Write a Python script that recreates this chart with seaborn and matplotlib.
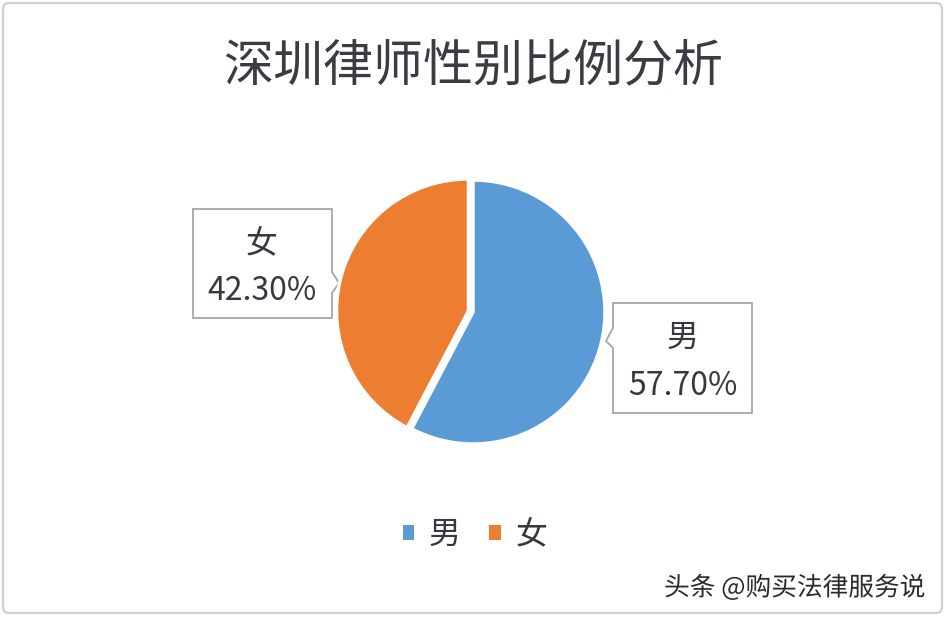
import matplotlib
matplotlib.use("Agg")
import matplotlib.pyplot as plt
import seaborn as sns
from matplotlib.patches import Polygon, FancyBboxPatch, Patch
import matplotlib.patheffects as pe

# ---- data ----
categories = ["男", "女"]
shares = [57.70, 42.30]
title = "深圳律师性别比例分析"
watermark = "头条 @购买法律服务说"
colors = ["#5B9BD5", "#ED7D31"]

sns.set_theme(style="white")
plt.rcParams['font.family'] = ['Noto Sans CJK SC', 'DejaVu Sans']

W, H = 946, 618
fig = plt.figure(figsize=(W / 100, H / 100), dpi=100)
fig.patch.set_facecolor("white")

txt_color = "#3A3540"

# overlay axes in pixel coordinates for decoration
ov = fig.add_axes([0, 0, 1, 1])
ov.set_xlim(0, W)
ov.set_ylim(H, 0)
ov.axis("off")

# outer border
ov.add_patch(FancyBboxPatch((3, 3), W - 7, H - 8, boxstyle="round,pad=0,rounding_size=6",
                            fill=False, edgecolor="#CFCFD4", linewidth=1.6))

# pie axes
cx, cy, R, half = 473, 312, 132, 150
pax = fig.add_axes([(cx - half) / W, (H - cy - half) / H, 2 * half / W, 2 * half / H])
wedges, _ = pax.pie(shares, colors=colors, startangle=90, counterclock=False,
                    explode=[0, 0.035], radius=1,
                    wedgeprops=dict(edgecolor="white", linewidth=2.5))
lim = half / R
pax.set_xlim(-lim, lim)
pax.set_ylim(-lim, lim)
pax.set_aspect("equal")
pax.axis("off")

# callouts
def callout(x0, y0, x1, y1, side, p0, p1, tip):
    if side == "right":
        pts = [(x0, y0), (x1, y0), (x1, p0), tip, (x1, p1), (x1, y1), (x0, y1)]
    else:
        pts = [(x0, y0), (x1, y0), (x1, y1), (x0, y1), (x0, p1), tip, (x0, p0)]
    ov.add_patch(Polygon(pts, closed=True, facecolor="white", edgecolor="#A6A6A6",
                         linewidth=1.3, zorder=5))

fs_lab = 23
# 女 label
callout(193, 209, 332, 318, "right", 272, 293, (339, 283))
ov.text(262, 244, categories[1], ha="center", va="center", fontsize=fs_lab,
        color=txt_color, fontweight="light", zorder=6)
ov.text(262, 291, f"{shares[1]:.2f}%", ha="center", va="center", fontsize=fs_lab,
        color=txt_color, fontweight="light", zorder=6)
# 男 label
callout(613, 303, 752, 413, "left", 328, 348, (606, 341))
ov.text(683, 338, categories[0], ha="center", va="center", fontsize=fs_lab,
        color=txt_color, fontweight="light", zorder=6)
ov.text(683, 386, f"{shares[0]:.2f}%", ha="center", va="center", fontsize=fs_lab,
        color=txt_color, fontweight="light", zorder=6)

# title
ov.text(473, 66, title, ha="center", va="center", fontsize=36, color="#3E3A44",
        fontweight="normal")

# legend
handles = [Patch(facecolor=c, edgecolor="none") for c in colors]
leg = fig.legend(handles, categories, loc="center", bbox_to_anchor=(475 / W, 1 - 535 / H),
                 ncol=2, frameon=False, fontsize=23, handlelength=0.36, handleheight=0.36,
                 handletextpad=0.45, columnspacing=0.9, borderpad=0)
for t in leg.get_texts():
    t.set_color(txt_color)
    t.set_fontweight("light")

# watermark
ov.text(795, 588, watermark, ha="center", va="center", fontsize=18.5, color="#2B2B2B",
        path_effects=[pe.withStroke(linewidth=2.5, foreground="white")])

fig.savefig("out.png", dpi=100, facecolor="white")
